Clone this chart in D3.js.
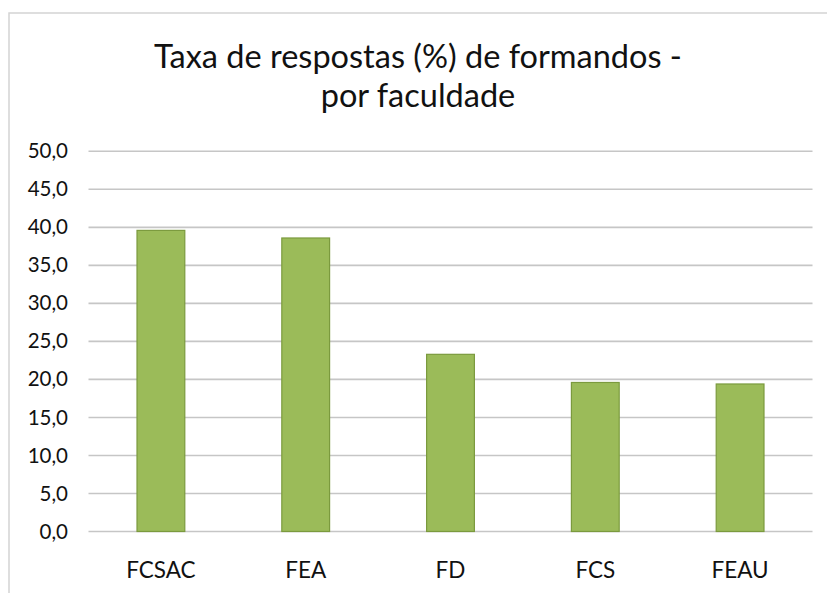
<!DOCTYPE html>
<html>
<head>
<meta charset="utf-8">
<script src="https://cdn.jsdelivr.net/npm/d3@7"></script>
<style>
  body { margin: 0; background: #fff; }
  svg { display: block; font-family: Lato, "Open Sans", sans-serif; }
</style>
</head>
<body>
<svg width="827" height="593"></svg>
<script>
'use strict';

var faculdades = ['FCSAC', 'FEA', 'FD', 'FCS', 'FEAU'];
var taxas = [39.6, 38.6, 23.3, 19.6, 19.4];
var yTicks = [0, 5, 10, 15, 20, 25, 30, 35, 40, 45, 50];
var titleLines = ['Taxa de respostas (%) de formandos -', 'por faculdade'];

var svg = d3.select('svg');

// outer chart frame (continues past the right / bottom edge)
svg.append('rect')
    .attr('x', 9).attr('y', 13)
    .attr('width', 840).attr('height', 600)
    .attr('fill', '#fff')
    .attr('stroke', '#d4d4d4')
    .attr('stroke-width', 1.5);

var x = d3.scaleBand()
    .domain(faculdades)
    .range([88.5, 812.5])
    .paddingInner(0.67)
    .paddingOuter(0.335);

var y = d3.scaleLinear()
    .domain([0, 50])
    .range([531.5, 151.3]);

// gridlines
svg.append('g')
    .selectAll('line')
    .data(yTicks)
    .enter()
    .append('line')
    .attr('x1', 88.5).attr('x2', 812.5)
    .attr('y1', function(d) { return y(d); })
    .attr('y2', function(d) { return y(d); })
    .attr('stroke', '#c6c6c6')
    .attr('stroke-width', 1.6);

// y axis labels
var yAxis = svg.append('g')
    .attr('transform', 'translate(68,0)')
    .call(d3.axisLeft(y).tickValues(yTicks).tickSize(0).tickPadding(0)
        .tickFormat(function(d) { return d.toFixed(1).replace('.', ','); }));
yAxis.select('.domain').remove();
yAxis.selectAll('text')
    .attr('font-size', 20.5)
    .attr('fill', '#111')
    .attr('font-family', 'Lato, sans-serif');

// bars
svg.append('g')
    .selectAll('rect')
    .data(faculdades)
    .enter()
    .append('rect')
    .attr('x', function(d) { return x(d); })
    .attr('y', function(d, i) { return y(taxas[i]); })
    .attr('width', x.bandwidth())
    .attr('height', function(d, i) { return y(0) - y(taxas[i]); })
    .attr('fill', '#9bbb59')
    .attr('stroke', '#7b9a3e')
    .attr('stroke-width', 1.2);

// x axis labels
var xAxis = svg.append('g')
    .attr('transform', 'translate(0,' + y(0) + ')')
    .call(d3.axisBottom(x).tickSize(0).tickPadding(31));
xAxis.select('.domain').remove();
xAxis.selectAll('text')
    .attr('font-size', 22.5)
    .attr('fill', '#111')
    .attr('font-family', 'Lato, sans-serif');

// title
svg.append('text')
    .attr('text-anchor', 'middle')
    .attr('font-size', 32.5)
    .attr('fill', '#111')
    .selectAll('tspan')
    .data(titleLines)
    .enter()
    .append('tspan')
    .attr('x', 418)
    .attr('y', function(d, i) { return 68 + i * 39; })
    .text(function(d) { return d; });
</script>
</body>
</html>
